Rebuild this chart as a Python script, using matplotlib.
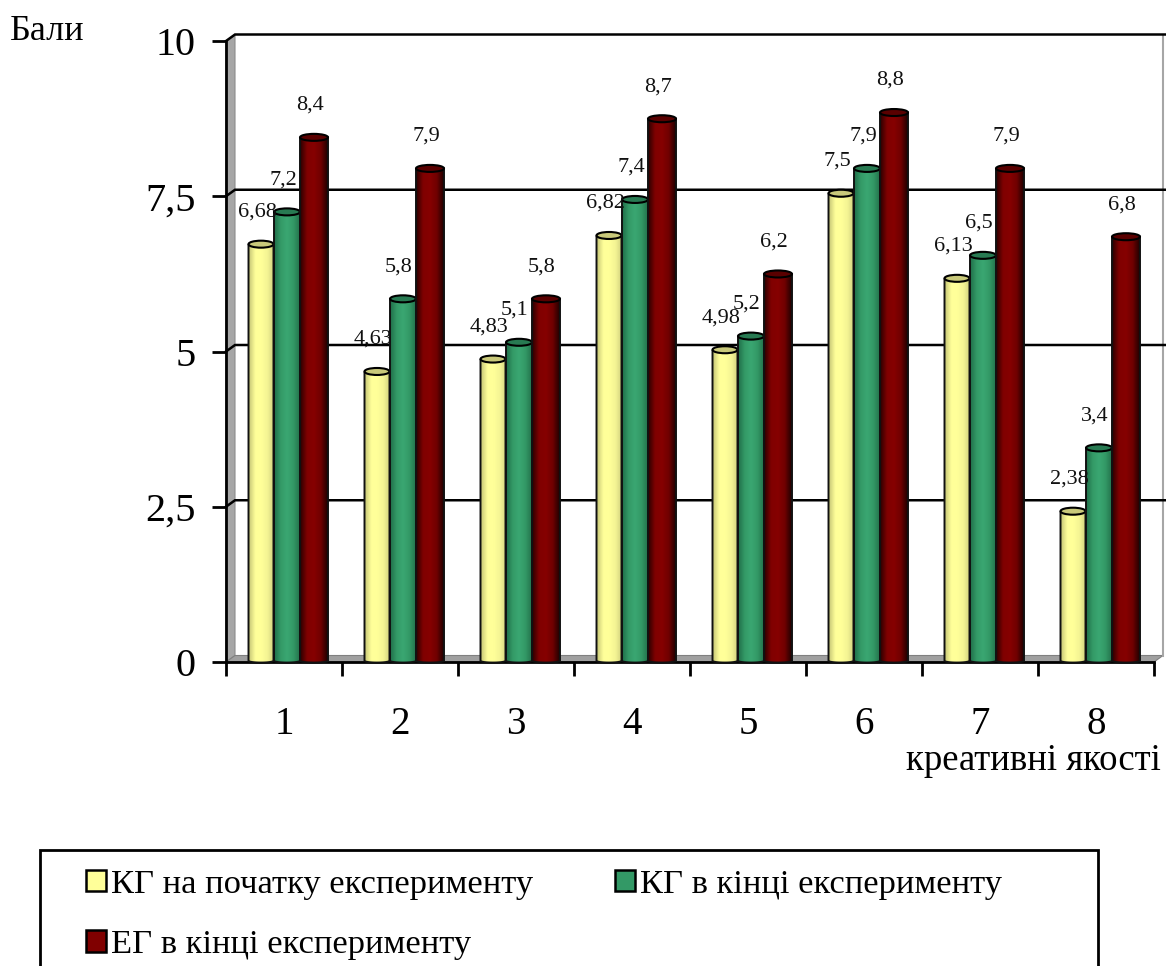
import numpy as np
import matplotlib
matplotlib.use("Agg")
import matplotlib.pyplot as plt
from matplotlib.colors import LinearSegmentedColormap
from matplotlib.patches import Ellipse, PathPatch, Polygon, Rectangle
from matplotlib.path import Path

plt.rcParams['font.family'] = ['Liberation Serif', 'DejaVu Sans']

categories = ['1', '2', '3', '4', '5', '6', '7', '8']
kg_start = [6.68, 4.63, 4.83, 6.82, 4.98, 7.5, 6.13, 2.38]
kg_end = [7.2, 5.8, 5.1, 7.4, 5.2, 7.9, 6.5, 3.4]
eg_end = [8.4, 7.9, 5.8, 8.7, 6.2, 8.8, 7.9, 6.8]
kg_start_labels = ['6,68', '4,63', '4,83', '6,82', '4,98', '7,5', '6,13', '2,38']
kg_end_labels = ['7,2', '5,8', '5,1', '7,4', '5,2', '7,9', '6,5', '3,4']
eg_end_labels = ['8,4', '7,9', '5,8', '8,7', '6,2', '8,8', '7,9', '6,8']
series_names = ['КГ на початку експерименту', 'КГ в кінці експерименту', 'ЕГ в кінці експерименту']
y_ticks = [0, 2.5, 5, 7.5, 10]
y_tick_labels = ['0', '2,5', '5', '7,5', '10']

W, H = 1166, 966
fig = plt.figure(figsize=(W / 100, H / 100), dpi=100)
ax = fig.add_axes([226 / W, 1 - 662 / H, (1154 - 226) / W, (662 - 41) / H])
ax.set_xlim(0.5, 8.5)
ax.set_ylim(0, 10)

# pixels to data units, the fake 3d depth is worked out with these
px_x = 8 / (1154 - 226)
px_y = 10 / (662 - 41)
depth_x = 9 * px_x
depth_y = 6.5 * px_y

# walls and floor
ax.add_patch(Polygon([(0.5, 0), (0.5 + depth_x, depth_y), (0.5 + depth_x, 10 + depth_y), (0.5, 10)],
                     facecolor='#a6a6a6', edgecolor='#8c8c8c', lw=0.8, clip_on=False, zorder=1))
ax.add_patch(Polygon([(0.5, 0), (0.5 + depth_x, depth_y), (8.5 + depth_x, depth_y), (8.5, 0)],
                     facecolor='#a0a0a0', edgecolor='#808080', lw=0.8, clip_on=False, zorder=1))
ax.plot([8.5 + depth_x, 8.5 + depth_x], [depth_y, 10 + depth_y], color='#a6a6a6', lw=1.5, clip_on=False, zorder=1)

# gridlines run along the back wall, with the little diagonal at the left
right_end = 8.5 + 12 * px_x
for t in y_ticks[1:]:
    ax.plot([0.5, 0.5 + depth_x, right_end], [t, t + depth_y, t + depth_y], color='black', lw=1.8,
            clip_on=False, zorder=2, solid_joinstyle='miter')


def cylinder(x, value, width, cmap, cap_color, zorder):
    # body is a rectangle with a rounded bottom, filled with a side to side gradient
    top = value + 3 * px_y
    ry = 3.5 * px_y
    t = np.linspace(np.pi, 2 * np.pi, 30)
    bottom_x = x + width / 2 * np.cos(t)
    bottom_y = 1.2 * px_y + ry * 0.5 * np.sin(t)
    verts = [(x - width / 2, top)] + list(zip(bottom_x, bottom_y)) + [(x + width / 2, top), (x - width / 2, top)]
    body = PathPatch(Path(verts), facecolor='none', edgecolor='#111111', lw=1.4, clip_on=False, zorder=zorder + 0.2)
    ax.add_patch(body)
    im = ax.imshow(np.linspace(0, 1, 64).reshape(1, -1), cmap=cmap, aspect='auto', zorder=zorder,
                   extent=(x - width / 2, x + width / 2, -1 * px_y, top), interpolation='bilinear')
    im.set_clip_path(body)
    ax.add_patch(Ellipse((x, top), width, 2 * ry, facecolor=cap_color, edgecolor='black', lw=1.5,
                         clip_on=False, zorder=zorder + 0.3))


cmaps = [
    LinearSegmentedColormap.from_list('y', ['#c8c878', '#ffff99', '#ffff99', '#f4f494', '#d2d27e']),
    LinearSegmentedColormap.from_list('g', ['#1f6e49', '#339966', '#3aa772', '#339966', '#24734d']),
    LinearSegmentedColormap.from_list('r', ['#2a0000', '#800000', '#860000', '#700000', '#200000']),
]
cap_colors = ['#c9c97a', '#287a52', '#5a0000']
series = [kg_start, kg_end, eg_end]
series_labels = [kg_start_labels, kg_end_labels, eg_end_labels]
offsets = [-23 * px_x, 3 * px_x, 30 * px_x]
widths = [25 * px_x, 26 * px_x, 28 * px_x]
positions = np.arange(1, len(categories) + 1)

for s in range(3):
    for i, v in enumerate(series[s]):
        cylinder(positions[i] + offsets[s], v, widths[s], cmaps[s], cap_colors[s], 3 + s)
        ax.annotate(series_labels[s][i], (positions[i] + offsets[s], v), xytext=(-4, 35),
                    textcoords='offset pixels', ha='center', va='center', fontsize=16,
                    color='#111111', zorder=8, annotation_clip=False)

ax.set_xlim(0.5, 8.5)
ax.set_ylim(0, 10)

# axes
for side in ['top', 'right']:
    ax.spines[side].set_visible(False)
for side in ['left', 'bottom']:
    ax.spines[side].set_linewidth(2)
    ax.spines[side].set_zorder(2.5)
ax.patch.set_alpha(0)
ax.set_yticks(y_ticks)
ax.set_yticklabels(y_tick_labels, fontsize=29)
ax.tick_params(axis='y', length=10, width=2, pad=12)
ax.set_xticks(np.arange(0.5, 9.5))
ax.set_xticklabels([])
ax.set_xticks(positions, minor=True)
ax.set_xticklabels(categories, minor=True, fontsize=28)
ax.tick_params(axis='x', which='major', length=10, width=2)
ax.tick_params(axis='x', which='minor', length=0, pad=32)

fig.text(47 / W, 1 - 31 / H, 'Бали', fontsize=26, ha='center', va='center')
fig.text(1161 / W, 1 - 761 / H, 'креативні якості', fontsize=26.5, ha='right', va='center')

# legend, its frame runs off the bottom of the picture so it is a separate patch
fig.add_artist(Rectangle((40 / W, -0.05), (1098 - 40) / W, 1 - 850 / H + 0.05, transform=fig.transFigure,
                         facecolor='none', edgecolor='black', lw=2))
legend_colors = ['#ffff99', '#800000', '#339966']
handles = [Rectangle((0, 0), 1, 1, facecolor=c, edgecolor='black', lw=1.8) for c in legend_colors]
ax.legend(handles, [series_names[0], series_names[2], series_names[1]], ncol=2, frameon=False, loc='upper left',
          bbox_to_anchor=(76 / W, 1 - 859 / H), bbox_transform=fig.transFigure, borderaxespad=0, borderpad=0.3,
          fontsize=24.8, handlelength=0.58, handleheight=0.58, handletextpad=0.15, columnspacing=2.35, labelspacing=0.86)

fig.savefig('out.png', dpi=100)
